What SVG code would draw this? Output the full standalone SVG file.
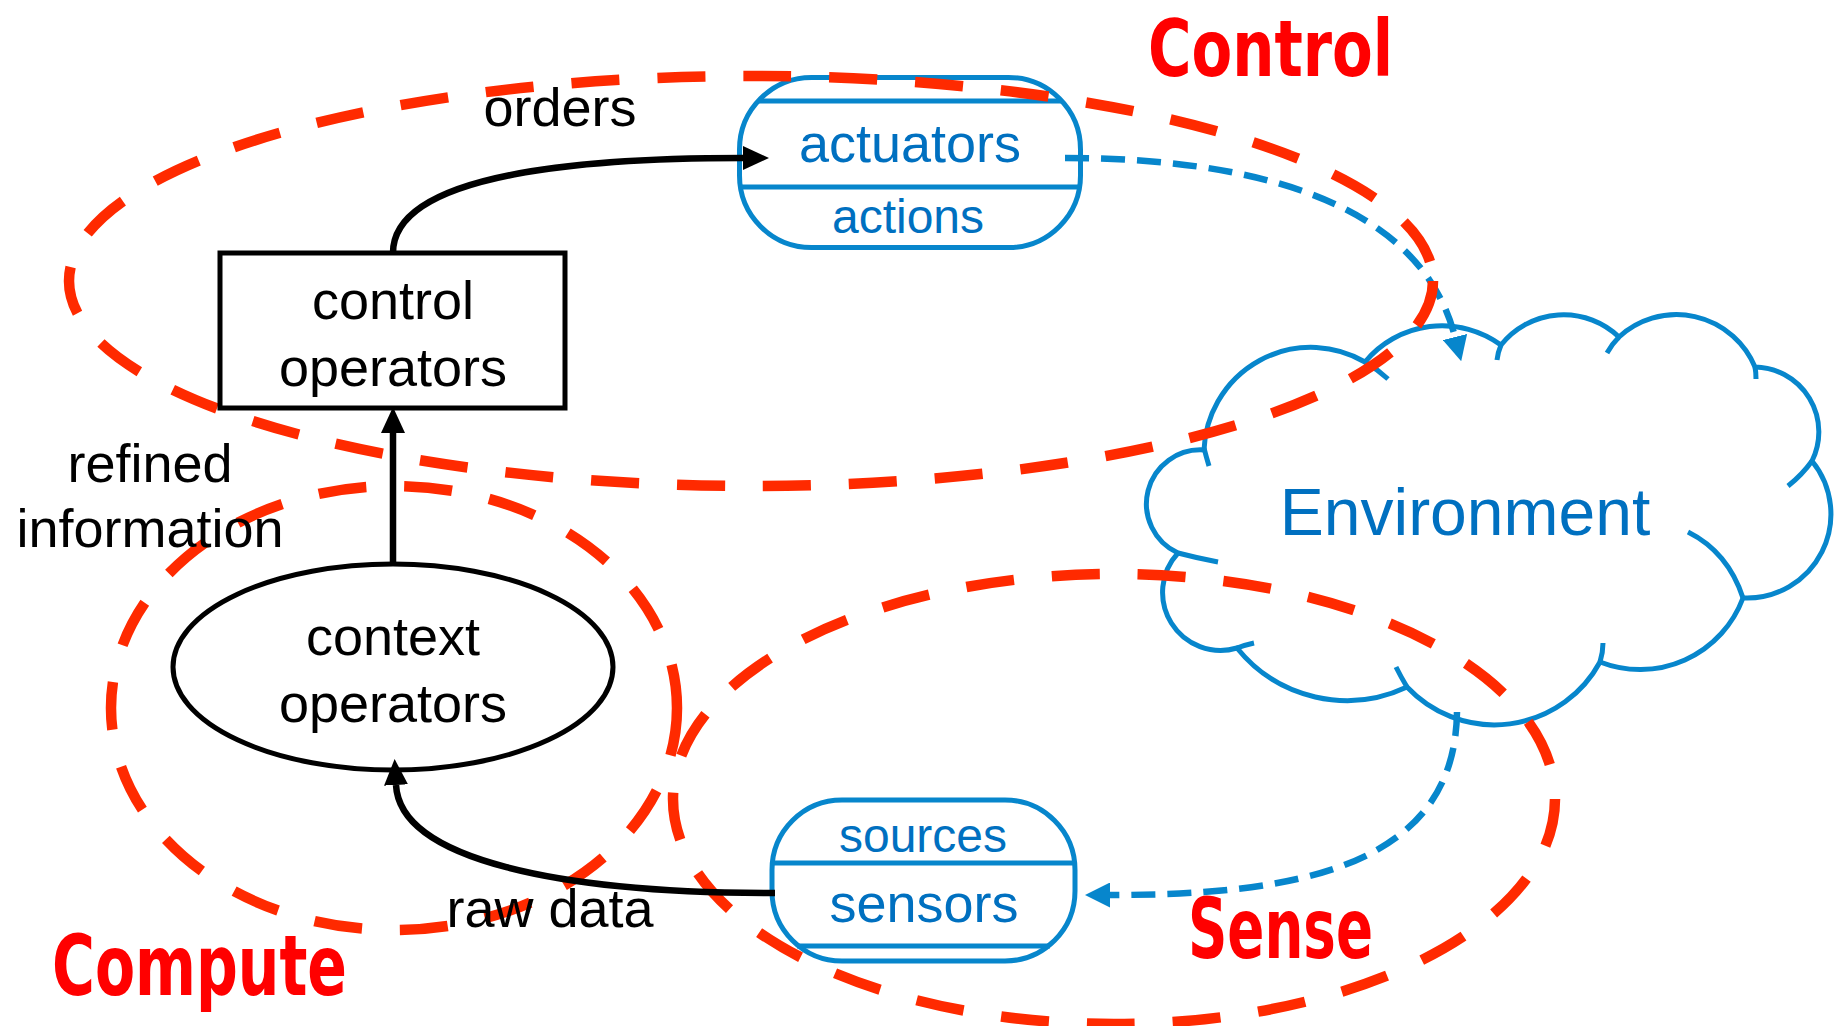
<svg xmlns="http://www.w3.org/2000/svg" width="1834" height="1026" viewBox="0 0 1834 1026">
  <style>
    .blue-shape { fill: #ffffff; stroke: #0786CC; stroke-width: 5; }
    .blue-line { fill: none; stroke: #0786CC; stroke-width: 5; }
    .blue-text { fill: #0070C0; font-family: "Liberation Sans", Arial, sans-serif; text-anchor: middle; }
    .black-shape { fill: #ffffff; stroke: #000000; stroke-width: 5; }
    .black-text { fill: #000000; font-family: "Liberation Sans", Arial, sans-serif; font-size: 54px; text-anchor: middle; }
    .flow { fill: none; stroke: #000000; stroke-width: 6.5; }
    .feedback { fill: none; stroke: #0786CC; stroke-width: 6.5; stroke-dasharray: 24 12; }
    .zone { fill: none; stroke: #FF2A00; stroke-width: 10.5; stroke-dasharray: 48 38; }
    .zone-label { fill: #FF0000; font-family: "DejaVu Sans Condensed", "DejaVu Sans", sans-serif; font-weight: bold; }
  </style>
  <defs>
    <marker id="arrow-black" markerUnits="userSpaceOnUse" markerWidth="26" markerHeight="24" viewBox="0 0 26 24" refX="0" refY="12" orient="auto">
      <path d="M0,0 L26,12 L0,24 Z" fill="#000000"/>
    </marker>
    <marker id="arrow-blue" markerUnits="userSpaceOnUse" markerWidth="25" markerHeight="25" viewBox="0 0 25 25" refX="0" refY="12.5" orient="auto">
      <path d="M0,0 L25,12.5 L0,25 Z" fill="#0786CC"/>
    </marker>
  </defs>

  <rect width="1834" height="1026" fill="#ffffff"/>

  <!-- Environment cloud -->
  <g id="environment">
    <path class="blue-shape" stroke-width="4.5" d="M1204,450 A107,107 0 0 1 1365,362 A100,100 0 0 1 1501,345 A80,80 0 0 1 1619,337 A85,85 0 0 1 1755,367 A65,65 0 0 1 1812,461 A84,84 0 0 1 1743,598 A110,110 0 0 1 1600,662 A120,120 0 0 1 1407,687 A141,141 0 0 1 1237,648 A58,58 0 0 1 1178,553 A54,54 0 0 1 1204,450 Z"/>
    <path class="blue-line" stroke-width="4.5" d="M1204,448 Q1206,456 1209,466 M1365,362 Q1377,369 1388,379 M1501,345 Q1498,352 1497,360 M1619,337 Q1612,344 1607,353 M1755,367 Q1756,372 1756,379 M1812,461 Q1802,475 1788,486 M1743,598 Q1728,552 1688,532 M1600,662 Q1603,652 1603,643 M1407,687 Q1401,677 1396,667 M1237,648 Q1245,645 1254,643 M1178,553 Q1197,558 1218,562"/>
    <text class="blue-text" x="1465" y="535" font-size="66">Environment</text>
  </g>

  <!-- actuators / actions -->
  <g id="actuators">
    <rect class="blue-shape" x="739.5" y="77.5" width="341" height="170" rx="72" ry="72"/>
    <line class="blue-line" x1="758" y1="101" x2="1062" y2="101"/>
    <line class="blue-line" x1="740" y1="187" x2="1080" y2="187"/>
    <text class="blue-text" x="910" y="162" font-size="54">actuators</text>
    <text class="blue-text" x="908" y="233" font-size="48">actions</text>
  </g>

  <!-- sources / sensors -->
  <g id="sensors">
    <rect class="blue-shape" x="772" y="800" width="303" height="161" rx="70" ry="70"/>
    <line class="blue-line" x1="772" y1="863" x2="1075" y2="863"/>
    <line class="blue-line" x1="797" y1="946" x2="1050" y2="946"/>
    <text class="blue-text" x="923" y="852" font-size="48">sources</text>
    <text class="blue-text" x="924" y="922" font-size="54">sensors</text>
  </g>

  <!-- feedback through the environment -->
  <g id="feedback-connectors">
    <path class="feedback" d="M1065,158 C1250,158 1420,200 1455,337" marker-end="url(#arrow-blue)"/>
    <path class="feedback" d="M1457,712 C1455,870 1290,895 1110,895" marker-end="url(#arrow-blue)"/>
  </g>

  <!-- loop phases -->
  <g id="zones">
    <ellipse class="zone" cx="751" cy="281" rx="682" ry="205"/>
    <ellipse class="zone" cx="394" cy="708" rx="283" ry="222"/>
    <ellipse class="zone" cx="1114" cy="799" rx="441" ry="225"/>
  </g>

  <!-- control operators -->
  <g id="control-operators">
    <rect class="black-shape" x="220" y="253" width="345" height="155"/>
    <text class="black-text" x="393" y="319">control</text>
    <text class="black-text" x="393" y="386">operators</text>
  </g>

  <!-- context operators -->
  <g id="context-operators">
    <ellipse class="black-shape" cx="393" cy="667" rx="220" ry="103"/>
    <text class="black-text" x="393" y="655">context</text>
    <text class="black-text" x="393" y="722">operators</text>
  </g>

  <!-- data flow -->
  <g id="flow-connectors">
    <path class="flow" d="M393,253 C393,170 600,158 743,158" marker-end="url(#arrow-black)"/>
    <path class="flow" d="M393,564 L393,433" marker-end="url(#arrow-black)"/>
    <path class="flow" d="M775,893 C560,893 400,860 396,785" marker-end="url(#arrow-black)"/>
    <text class="black-text" x="560" y="126">orders</text>
    <text class="black-text" x="150" y="482">refined</text>
    <text class="black-text" x="150" y="547">information</text>
    <text class="black-text" x="550" y="927">raw data</text>
  </g>

  <!-- phase names -->
  <g id="zone-labels">
    <text class="zone-label" x="1148" y="76" font-size="78" textLength="245" lengthAdjust="spacingAndGlyphs">Control</text>
    <text class="zone-label" x="52" y="995" font-size="84" textLength="295" lengthAdjust="spacingAndGlyphs">Compute</text>
    <text class="zone-label" x="1188" y="958" font-size="83" textLength="185" lengthAdjust="spacingAndGlyphs">Sense</text>
  </g>
</svg>
